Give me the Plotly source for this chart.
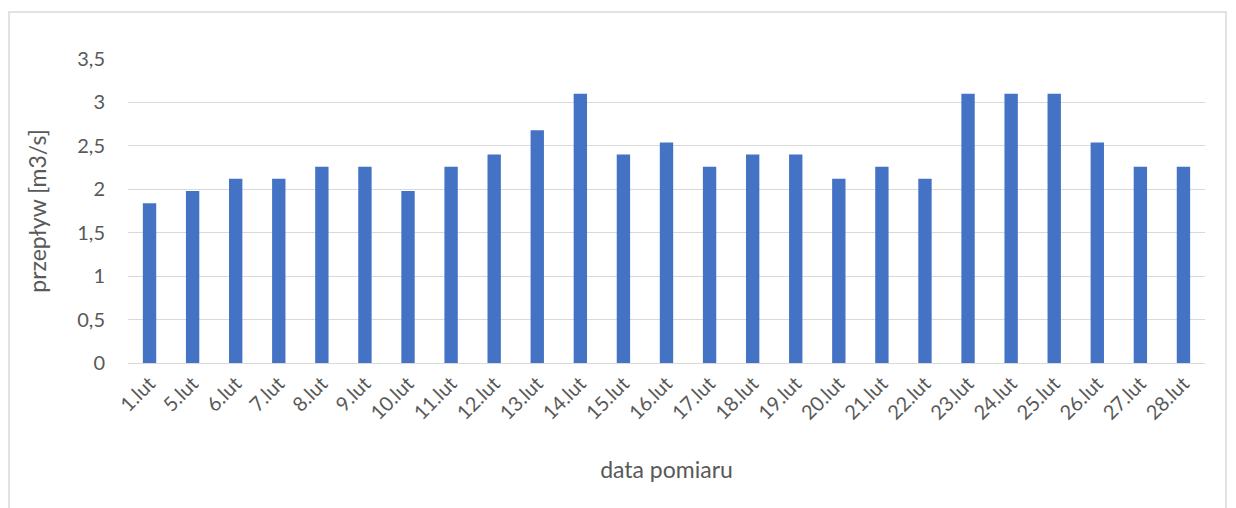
import plotly.graph_objects as go

categories = ["1.lut", "5.lut", "6.lut", "7.lut", "8.lut", "9.lut", "10.lut", "11.lut",
              "12.lut", "13.lut", "14.lut", "15.lut", "16.lut", "17.lut", "18.lut", "19.lut",
              "20.lut", "21.lut", "22.lut", "23.lut", "24.lut", "25.lut", "26.lut", "27.lut", "28.lut"]
values = [1.84, 1.98, 2.12, 2.12, 2.26, 2.26, 1.98, 2.26, 2.40, 2.68, 3.10, 2.40, 2.54,
          2.26, 2.40, 2.40, 2.12, 2.26, 2.12, 3.10, 3.10, 3.10, 2.54, 2.26, 2.26]
y_ticks = [0, 0.5, 1, 1.5, 2, 2.5, 3, 3.5]

FONT = "Lato"
GREY = "#595959"

# page has an 8px body margin, so the figure starts at (8, 8)
W, H = 1228, 500
L, R, T, B = 120, 31, 51, 145
PW, PH = W - L - R, H - T - B

fig = go.Figure(go.Bar(x=categories, y=values, marker=dict(color="#4472C4", line=dict(width=0)),
                       width=0.31))

fig.update_layout(
    width=W, height=H,
    margin=dict(l=L, r=R, t=T, b=B),
    paper_bgcolor="white", plot_bgcolor="white",
    separators=", ",
    showlegend=False,
    font=dict(family=FONT, color=GREY, size=20),
    xaxis=dict(tickangle=-45, showgrid=False, showline=True, linecolor="#d9d9d9", linewidth=1,
               ticks="", tickfont=dict(size=20, color=GREY),
               title=dict(text="data pomiaru", font=dict(size=23, color=GREY), standoff=38)),
    yaxis=dict(range=[0, 3.5], tickvals=y_ticks, showgrid=True, gridcolor="#d9d9d9", gridwidth=1,
               zeroline=False, showline=False, ticks="", tickfont=dict(size=20, color=GREY),
               ticklabelstandoff=22,
               title=dict(text="przepływ [m3/s]", font=dict(size=23, color=GREY), standoff=24)),
    shapes=[dict(type="rect", xref="paper", yref="paper",
                 x0=(1 - L) / PW, x1=(1218 - L) / PW,
                 y0=(T + PH - 512) / PH, y1=(T + PH - 4) / PH,
                 line=dict(color="#d9d9d9", width=1.5), fillcolor="rgba(0,0,0,0)", layer="below")],
)

fig.write_html("out.html")
